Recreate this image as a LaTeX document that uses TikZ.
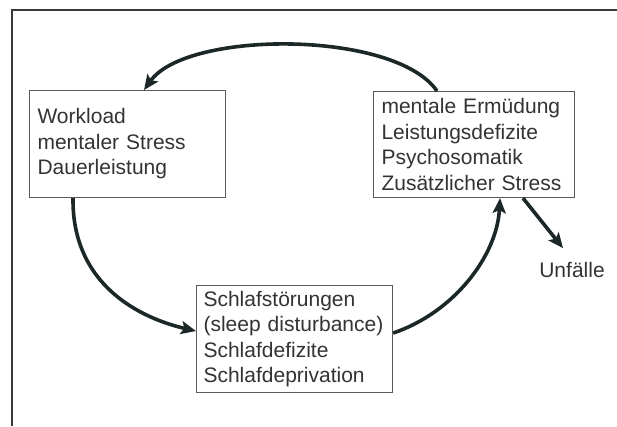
\documentclass[tikz,border=0pt]{standalone}
\usepackage{fontspec}
\setmainfont{Liberation Sans}
\usetikzlibrary{arrows.meta}
\definecolor{arrowc}{HTML}{1C2828}
\definecolor{boxc}{HTML}{5A5A5A}
\definecolor{textc}{HTML}{333333}
\definecolor{framec}{HTML}{3A3A3A}
\tikzset{
  infobox/.style={draw=boxc, line width=1.1pt, rectangle, anchor=north west,
    align=left, text=textc, inner xsep=8pt, inner ysep=0pt,
    font=\fontsize{21}{25.5}\selectfont},
  flow/.style={draw=arrowc, line width=3.6pt,
    -{Stealth[length=15pt,width=13pt,inset=3pt]}},
  framel/.style={draw=framec, line width=1.6pt}
}
\begin{document}
\begin{tikzpicture}[x=1pt,y=-1pt]
\useasboundingbox (0,0) rectangle (617,426);
\fill[white] (0,0) rectangle (617,426);
\coordinate (fl) at (12,426);
\coordinate (fc) at (12,10);
\coordinate (fr) at (617,10);
\draw[framel] (fl) -- (fc) -- (fr);

\node[infobox, minimum width=196pt, minimum height=107pt, text width=180pt] (b1) at (29,90)
  {Workload\\mentaler Stress\\Dauerleistung};
\node[infobox, minimum width=201pt, minimum height=106pt, text width=185pt] (b3) at (373,91)
  {mentale Ermüdung\\Leistungsdefizite\\Psychosomatik\\Zusätzlicher Stress};
\node[infobox, inner xsep=7pt, minimum width=196pt, minimum height=107pt, text width=182pt] (b2) at (196,285)
  {Schlafstörungen\\(sleep disturbance)\\Schlafdefizite\\Schlafdeprivation};
\node[text=textc, font=\fontsize{21}{25.5}\selectfont, inner sep=3pt] (u) at (572,270) {Unfälle};

\draw[flow] ([xshift=64pt]b3.north west) .. controls (395,30) and (187,30) .. ([xshift=115pt]b1.north west);
\draw[flow] ([xshift=44pt]b1.south west) .. controls (72,285) and (140,318) .. ([yshift=8pt]b2.west);
\draw[flow] ([yshift=6pt]b2.east) .. controls (455,312) and (497,255) .. ([xshift=127pt]b3.south west);
\draw[flow] ([xshift=150pt]b3.south west) -- ([xshift=-9pt,yshift=11pt]u.north);
\end{tikzpicture}
\end{document}
